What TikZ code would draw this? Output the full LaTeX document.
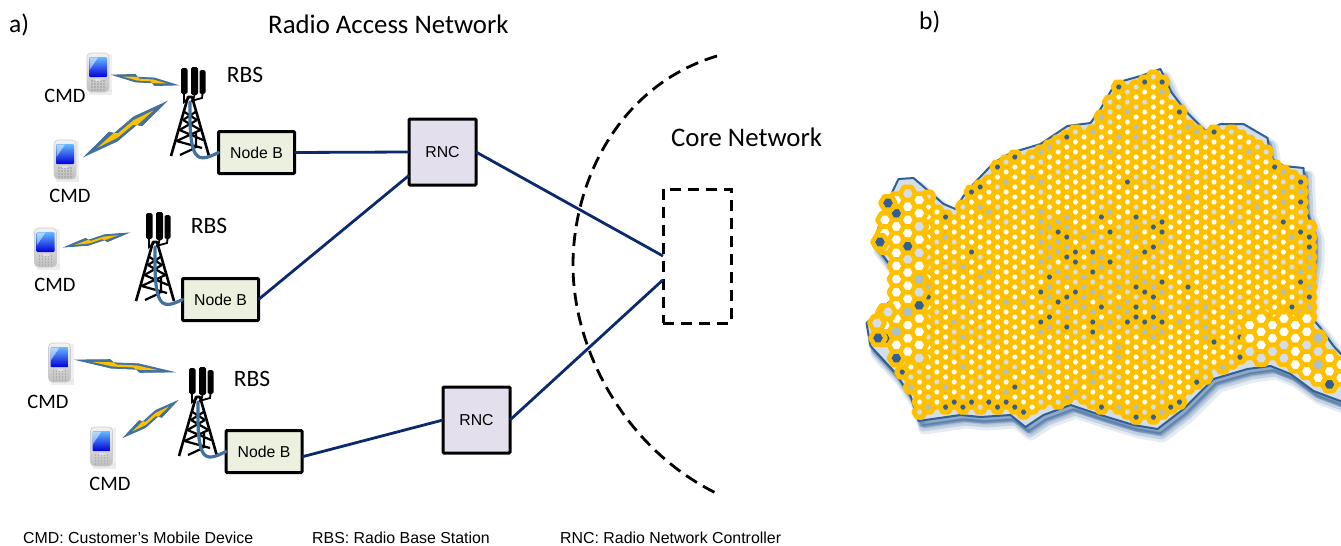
\documentclass[tikz,border=0pt]{standalone}
\usepackage{fontspec}
\setmainfont{Carlito}
\newfontfamily\arialf{Liberation Sans}
\usetikzlibrary{calc}
\definecolor{navy}{HTML}{0B2A6B}
\definecolor{nbfill}{HTML}{EBF1DE}
\definecolor{rncfill}{HTML}{E4DFEC}
\definecolor{cablec}{HTML}{41719C}
\definecolor{gold}{HTML}{FFC000}
\definecolor{mapdark}{HTML}{2F5F96}
\definecolor{mapmid}{HTML}{A9BFD6}
\definecolor{maplight}{HTML}{D3DEE9}
\tikzset{
  nodeb/.style={draw=black,line width=3pt,fill=nbfill,rounded corners=1pt,minimum width=76pt,minimum height=42pt,inner sep=0pt,outer sep=0pt,font=\arialf\fontsize{15.8}{18}\selectfont},
  rnc/.style={draw=black,line width=3pt,fill=rncfill,rounded corners=1pt,minimum width=67pt,minimum height=66pt,inner sep=0pt,outer sep=0pt,font=\arialf\fontsize{15.8}{18}\selectfont},
  corebox/.style={draw=black,line width=3pt,dash pattern=on 11pt off 7pt,minimum width=68pt,minimum height=134pt,inner sep=0pt,outer sep=0pt},
  link/.style={draw=navy,line width=2.8pt},
  cable/.style={draw=cablec,line width=3.2pt,line cap=round},
  arcline/.style={draw=black,line width=2.8pt,dash pattern=on 13pt off 7pt},
  lab/.style={font=\fontsize{23.5}{26}\selectfont,inner sep=0pt},
  panel/.style={font=\fontsize{25.5}{28}\selectfont,inner sep=0pt},
  head/.style={font=\fontsize{26.8}{30}\selectfont,inner sep=0pt},
  cmd/.style={font=\fontsize{20.5}{24}\selectfont,inner sep=0pt},
  foot/.style={font=\arialf\fontsize{15.9}{18}\selectfont,anchor=west,inner sep=0pt},
  hexcell/.style={draw=gold,line width=5pt,line join=round},
  bighex/.style={draw=gold,line width=4.6pt,line join=round},
}
% ---- phone, centred
\newcommand\phone[2]{%
  \begin{scope}[shift={(#1,#2)}]
    \fill[gray!30,opacity=.45] (-9,17) rectangle (14,23);
    \fill[gray!20,opacity=.55] (9,-18) rectangle (14,20);
    \path[top color=gray!10,bottom color=gray!50,draw=gray!40,line width=.6pt,rounded corners=4pt] (-11,-19) rectangle (11,20);
    \path[top color=blue!45!cyan!60,bottom color=blue!85!black,rounded corners=1pt] (-9,-15) rectangle (9,5);
    \fill[white,opacity=.5] (-8.5,-14.5) -- (0,-14.5) -- (-8.5,-2) -- cycle;
    \foreach \ky in {9,12,15,18}{\foreach \kx in {-6,-3,0,3,6}{\fill[gray!62] (\kx-.9,\ky-.8) rectangle (\kx+.9,\ky+.8);}}
    \fill[gray!25] (-3,6.5) rectangle (3,9);
  \end{scope}}
% ---- lightning
\newcommand\bolt[5]{%
  \pgfmathsetmacro\blen{veclen(#3-#1,#4-#2)}%
  \pgfmathsetmacro\bang{atan2(#2-#4,#3-#1)}%
  \begin{scope}[shift={(#1,#2)},rotate=\bang,xscale=\blen]
    \path[fill=cablec,draw=cablec,line width=.8pt,line join=miter,miter limit=20]
      (0,0) -- (.34,-#5) -- (.38,-.4*#5) -- (.64,-.85*#5) -- (1,0) -- (.66,#5) -- (.62,.4*#5) -- (.36,.85*#5) -- cycle;
    \path[fill=gold]
      (.15,0) -- (.38,-.5*#5) -- (.41,-.1*#5) -- (.62,-.45*#5) -- (.85,0) -- (.62,.5*#5) -- (.59,.1*#5) -- (.38,.45*#5) -- cycle;
  \end{scope}}
% ---- tower, apex at #1
\newcommand\tower[1]{%
  \begin{scope}[shift={(#1)}]
    \fill[black,rounded corners=1.6pt] (-9,-30) rectangle (-2.5,-4);
    \fill[black,rounded corners=1.6pt] (1,-31) rectangle (8,-3);
    \fill[black,rounded corners=1.6pt] (9.5,-28) rectangle (15.5,-4);
    \draw[black,line width=1.8pt] (-6,-4) -- (-6,4) -- (-1,0) (4.5,-3) -- (3,3) (12.5,-4) -- (12,0) -- (1,3) ;
    \draw[black,line width=2.6pt,line join=round] (-19,58) -- (-2,-1) -- (2,-1) -- (19,58);
    \draw[black,line width=2.2pt] (-5.5,14) -- (7,22) (5.5,14) -- (-7,22) (-7,22) -- (10.5,32) (7,22) -- (-10.5,32) (-10.5,32) -- (13,42) (10.5,32) -- (-13.5,43) (-13.5,43) -- (12,50) (-10,57) -- (5,50) (6,34) -- (6,50) ;
  \end{scope}}
\newcommand\mapoutline{(885,205) -- (898,178) -- (913,177) -- (943,203) -- (955,208) -- (963,195) -- (973,183) -- (993,162) -- (1010,152) -- (1040,143) -- (1067,125) -- (1090,122) -- (1100,108) -- (1115,82) -- (1140,75) -- (1160,68) -- (1170,90) -- (1185,110) -- (1205,130) -- (1220,123) -- (1243,123) -- (1267,137) -- (1270,157) -- (1283,165) -- (1303,167) -- (1305,207) -- (1313,230) -- (1313,253) -- (1308,287) -- (1308,313) -- (1320,327) -- (1333,345) -- (1345,358) -- (1345,402) -- (1313,390) -- (1290,373) -- (1270,365) -- (1247,368) -- (1213,378) -- (1183,408) -- (1157,428) -- (1133,424) -- (1100,414) -- (1070,404) -- (1043,414) -- (1025,426) -- (1010,414) -- (980,416) -- (960,414) -- (918,420) -- (910,395) -- (895,372) -- (870,345) -- (866,322) -- (892,298) -- (894,270) -- (873,242) -- cycle}
\def\toplist{885/205,898/178,913/177,943/203,955/208,963/195,973/183,993/162,1010/152,1040/143,1067/125,1090/122,1100/108,1115/82,1140/75,1160/68,1170/90,1185/110,1205/130,1220/123,1243/123,1267/137,1270/157,1283/165,1303/167,1305/207,1313/230,1315/253,1316/327,1333/345,1370/358}
\def\botlist{885/350,895/372,910/395,918/420,960/414,980/416,1010/414,1025/426,1043/414,1070/404,1100/414,1133/424,1157/428,1183/408,1213/378,1247/368,1270/365,1290/373,1313/390,1370/404}
\newcommand\lookup[3]{%
  \gdef#3{0}%
  \foreach \xa/\ya [remember=\xa as \xp (initially 800),remember=\ya as \yp (initially 0)] in #1 {%
    \ifdim\xa pt>#2pt\relax\ifdim\xp pt>#2pt\relax\else
      \pgfmathsetmacro\vv{\yp+(\ya-\yp)*((#2-\xp)/(\xa-\xp))}\global\let#3\vv
    \fi\fi}}
% hole colour; #1 = 1 near an edge, 2 in the dense centre, 0 elsewhere
\newcommand\pickhole[1]{%
  \pgfmathrandominteger{\rr}{0}{99}%
  \ifnum#1=1
    \ifnum\rr<40 \def\hc{mapdark}\else\ifnum\rr<68 \def\hc{mapmid}\else\def\hc{maplight}\fi\fi
  \else\ifnum#1=2
    \ifnum\rr<20 \def\hc{mapdark}\else\ifnum\rr<50 \def\hc{mapmid}\else\ifnum\rr<80 \def\hc{maplight}\else\def\hc{white}\fi\fi\fi
  \else
    \ifnum\rr<2 \def\hc{mapdark}\else\ifnum\rr<7 \def\hc{mapmid}\else\ifnum\rr<26 \def\hc{maplight}\else\def\hc{white}\fi\fi\fi
  \fi\fi}
\newcommand\onehex[3]{%
  \path[hexcell,fill=#3] (#1+5.77,#2) -- ++(-2.885,5) -- ++(-5.77,0) -- ++(-2.885,-5) -- ++(2.885,-5) -- ++(5.77,0) -- cycle;}
\newcommand\onebig[3]{%
  \path[bighex,fill=#3] (#1+7.6,#2) -- ++(-3.8,6.58) -- ++(-7.6,0) -- ++(-3.8,-6.58) -- ++(3.8,-6.58) -- ++(7.6,0) -- cycle;}
\begin{document}
\begin{tikzpicture}[x=1pt,y=-1pt]
\useasboundingbox (0,0) rectangle (1341,546);
\clip (0,0) rectangle (1341,546);
\fill[white] (0,0) rectangle (1341,546);
% ---------- texts
\node[head,anchor=west] (title) at (268,24) {Radio Access Network};
\node[panel,anchor=west] (la) at (9,25) {a)};
\node[panel,anchor=west] (lb) at (919,22) {b)};
\node[head,anchor=west] (corelab) at (671,137) {Core Network};
% ---------- boxes
\node[nodeb] (nb1) at (256.5,152.5) {Node B};
\node[nodeb] (nb2) at (220.5,299.5) {Node B};
\node[nodeb] (nb3) at (264,451.5) {Node B};
\node[rnc] (rnc1) at (442.5,152) {RNC};
\node[rnc] (rnc2) at (476.5,420) {RNC};
\node[corebox] (core) at (697,256) {};
% ---------- arc
\coordinate (arcA) at (717,56);
\coordinate (arcB) at (573,265);
\coordinate (arcC) at (720,495);
\draw[arcline] (arcA) .. controls (620,85) and (573,180) .. (arcB) .. controls (573,350) and (625,450) .. (arcC);
% ---------- links
\draw[link] (nb1.east) -- (rnc1.west);
\draw[link] (nb2.east) -- (rnc1.-145);
\draw[link] (nb3.-8) -- (rnc2.west);
\draw[link] (rnc1.east) -- (core.west);
\draw[link] (rnc2.east) -- (core.-145.6);
% ---------- towers
\coordinate (tw1) at (190,98);
\coordinate (tw2) at (155,243);
\coordinate (tw3) at (198,398);
\tower{tw1}\tower{tw2}\tower{tw3}
\foreach \t/\n in {tw1/nb1,tw2/nb2,tw3/nb3}{
  \draw[cable] ($(\t)+(0,4)$) .. controls ($(\t)+(-1,64)$) and ($(\n.west)+(-22,11)$) .. (\n.west);
}
% ---------- phones
\phone{98}{72}
\phone{65}{159}
\phone{45.5}{247}
\phone{59.5}{362}
\phone{101.5}{446}
% ---------- bolts
\bolt{113}{75}{177}{85}{4}
\bolt{85}{156}{166}{102}{6.5}
\bolt{65}{247}{128}{233}{4}
\bolt{77}{360}{173}{372}{4.5}
\bolt{124}{437}{177}{401}{5}
% ---------- labels
\node[lab] (rbs1) at (245,75) {RBS};
\node[lab] (rbs2) at (209,226) {RBS};
\node[lab] (rbs3) at (252,379) {RBS};
\node[cmd] (c1) at (65,96) {CMD};
\node[cmd] (c2) at (70,196) {CMD};
\node[cmd] (c3) at (55,285) {CMD};
\node[cmd] (c4) at (48,402) {CMD};
\node[cmd] (c5) at (110,484) {CMD};
\node[foot] (f1) at (23,538) {CMD: Customer’s Mobile Device};
\node[foot] (f2) at (312,538) {RBS: Radio Base Station};
\node[foot] (f3) at (560,538) {RNC: Radio Network Controller};
% ---------- map shadow
\path[draw=mapdark,fill=mapdark,line width=11pt,line join=round,opacity=.12,shift={(6,9)}] \mapoutline;
\path[draw=mapdark,fill=mapdark,line width=7pt,line join=round,opacity=.18,shift={(5,8)}] \mapoutline;
\path[draw=mapdark,fill=mapdark,line width=3pt,line join=round,opacity=.35,shift={(3,6)}] \mapoutline;
\path[draw=mapdark,line width=2pt,line join=round,fill=maplight,shift={(.5,1)}] \mapoutline;
% ---------- map cells
\pgfmathsetseed{42}
\foreach \ci in {0,...,53}{%
  \pgfmathsetmacro\colx{885+8.66*\ci}%
  \pgfmathsetmacro\off{mod(\ci,2)*5}%
  \lookup\toplist\colx\ytop
  \lookup\botlist\colx\ybot
  \foreach \k in {0,...,39}{%
    \pgfmathsetmacro\yy{62+10*\k+\off}%
    \pgfmathtruncatemacro\inm{(\yy>\ytop+6 && \yy<\ybot-6) ? 1 : 0}%
    \ifnum\inm=1
      \pgfmathtruncatemacro\isbig{((\colx<922 && \yy<360) || (\colx>1253 && \yy>322)) ? 1 : 0}%
      \ifnum\isbig=0
        \pgfmathtruncatemacro\edg{(\yy<\ytop+14 || \yy>\ybot-14 || (\colx>1296 && \yy<322)) ? 1 : ((\colx>1040 && \colx<1165 && \yy>215 && \yy<335) ? 2 : 0)}%
        \pickhole{\edg}%
        \onehex{\colx}{\yy}{\hc}%
      \fi
    \fi}}
\foreach \ci in {0,...,41}{%
  \pgfmathsetmacro\colx{885+11.4*\ci}%
  \pgfmathsetmacro\off{mod(\ci,2)*6.58}%
  \lookup\toplist\colx\ytop
  \lookup\botlist\colx\ybot
  \foreach \k in {0,...,26}{%
    \pgfmathsetmacro\yy{62+13.16*\k+\off}%
    \pgfmathtruncatemacro\inm{(\yy>\ytop+7 && \yy<\ybot-7) ? 1 : 0}%
    \ifnum\inm=1
      \pgfmathtruncatemacro\isbig{(((\colx<928 && \yy<362) && !(\colx<893 && \yy>258 && \yy<306)) || (\colx>1247 && \yy>316)) ? 1 : 0}%
      \ifnum\isbig=1
        \pgfmathtruncatemacro\edg{(\yy>\ybot-12) ? 1 : 0}%
        \pickhole{\edg}%
        \onebig{\colx}{\yy}{\hc}%
      \fi
    \fi}}
% outlying cells at the left edge
\foreach \px/\py/\pc in {880/242/mapdark,888/203/mapdark,877/323/maplight,888/312/maplight,878/338/mapdark}{%
  \onebig{\px}{\py}{\pc}}
\end{tikzpicture}
\end{document}
